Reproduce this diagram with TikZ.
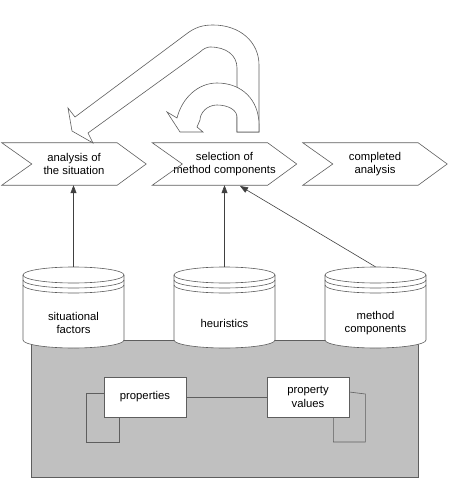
\documentclass[tikz,border=0pt]{standalone}
\usepackage{fontspec}
\setmainfont{Liberation Sans}
\usetikzlibrary{calc,arrows.meta}
\definecolor{edge}{HTML}{5E5E5E}
\definecolor{boxgray}{HTML}{C0C0C0}
\begin{document}
\begin{tikzpicture}[x=1pt,y=-1pt,
  lbl/.style={font=\fontsize{11.3}{13.5}\selectfont, align=center, inner sep=0pt},
  chev/.style={lbl, minimum width=144pt, minimum height=42pt},
  cylbox/.style={inner sep=0pt, minimum width=101pt, minimum height=81pt},
  pbox/.style={lbl, draw=edge, fill=white, line width=0.6pt, minimum width=82pt, minimum height=40pt},
  ln/.style={draw=edge, line width=0.6pt},
  conn/.style={draw=black!75, line width=0.6pt, -{Triangle[length=8pt,width=6pt]}}]
\useasboundingbox (0,0) rectangle (450,481);

% base (gray) area
\node[draw=edge, fill=boxgray, line width=0.6pt, minimum width=387pt, minimum height=137pt, inner sep=0pt] (base) at (224.5,408.5) {};

% chevrons
\node[chev] (c1) at (74,164) {analysis of\\the situation};
\node[chev] (c2) at (224.5,164) {selection of\\method components};
\node[chev] (c3) at (375,164) {completed\\analysis};
\foreach \c in {c1,c2,c3}
  \draw[ln] (\c.north west) -- ($(\c.north east)+(-29,0)$) -- (\c.east)
    -- ($(\c.south east)+(-29,0)$) -- (\c.south west) -- ($(\c.west)+(30,0)$) -- cycle;

% cylinders
\foreach \n/\x in {s1/73.5,s2/224.5,s3/375.5}{
  \node[cylbox] (\n) at (\x,307.5) {};
  \filldraw[ln, fill=white] (\x-50.5,275) -- (\x-50.5,340)
    arc[start angle=180, end angle=360, x radius=50.5pt, y radius=8pt]
    -- (\x+50.5,275)
    arc[start angle=0, end angle=180, x radius=50.5pt, y radius=8pt] -- cycle;
  \foreach \yy in {275,280,285}
    \draw[ln] (\x-50.5,\yy) arc[start angle=180, end angle=360, x radius=50.5pt, y radius=8pt];
}
\node[lbl] (s1t) at (73.5,323) {situational\\factors};
\node[lbl] (s2t) at (224.5,323) {heuristics};
\node[lbl] (s3t) at (375.5,323) {method\\components};

% connectors from repositories to steps
\coordinate (c2in) at (240,186);
\draw[conn] (s1.north) -- (s1.north |- c1.south);
\draw[conn] (s2.north) -- (s2.north |- c2.south);
\draw[conn] (s3.north) -- (c2in);

% properties
\node[pbox] (pr) at (145,397) {properties};
\node[pbox] (pv) at (308,397) {property\\values};
\draw[ln] (pr) -- (pv);
\draw[ln] ($(pr.west)+(0,-4)$) -- ++(-17,0) -- ++(0,49) -- ++(33,0) -- ++(0,-25);
\draw[ln] ($(pv.east)+(0,-5)$) -- ++(16,2) -- ++(0,48) -- ++(-32,0) -- ++(0,-25);

% big block arrow back to analysis
\filldraw[ln, fill=white] (237,132) -- (237,68)
  .. controls (237,55) and (226,47) .. (210,47)
  .. controls (207,47) and (203,49) .. (200,52)
  -- (88,133) -- (93,143) -- (72,131) -- (68,108) -- (75,117)
  -- (185,35) .. controls (195,27) and (203,25) .. (213,25)
  .. controls (240,25) and (259,42) .. (259,65) -- (259,132) -- cycle;
% small block arrow looping back to selection
\filldraw[ln, fill=white] (237,132) -- (237,117)
  .. controls (237,110) and (228,105) .. (217,105)
  .. controls (207,105) and (200,113) .. (200,120)
  -- (197,127) -- (203,132) -- (180,132) -- (167,112) -- (177,118)
  .. controls (182,98) and (198,83) .. (217,83)
  .. controls (242,83) and (259,100) .. (259,125) -- (259,132) -- cycle;
\end{tikzpicture}
\end{document}
